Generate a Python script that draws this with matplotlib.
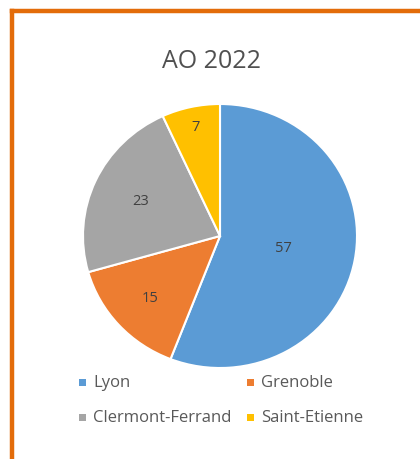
import numpy as np
import matplotlib.pyplot as plt
from matplotlib.patches import Rectangle
from matplotlib.lines import Line2D

plt.rcParams['font.family'] = ['Open Sans', 'DejaVu Sans']

cities = ['Lyon', 'Grenoble', 'Clermont-Ferrand', 'Saint-Etienne']
values = [57, 15, 23, 7]
colors = ['#5B9BD5', '#ED7D31', '#A5A5A5', '#FFC000']
label_r = [0.47, 0.69, 0.64, 0.85]

W, H = 420, 460
fig = plt.figure(figsize=(W / 100, H / 100), dpi=100)

# orange frame (top and left only visible)
fig.add_artist(Line2D([12 / W, 1], [1 - 12 / H, 1 - 12 / H], color='#E36C0A', lw=3.2,
                      transform=fig.transFigure))
fig.add_artist(Line2D([12 / W, 12 / W], [0, 1 - 12 / H], color='#E36C0A', lw=3.2,
                      transform=fig.transFigure))

# pie is slightly squashed in the reference
cx, cy, rx, ry = 220, 237, 137, 132
ax = fig.add_axes([(cx - rx) / W, (H - cy - ry) / H, 2 * rx / W, 2 * ry / H])
wedges, _ = ax.pie(values, colors=colors, startangle=90, counterclock=False,
                   radius=1, wedgeprops=dict(edgecolor='white', linewidth=1.5))
ax.set_xlim(-1, 1)
ax.set_ylim(-1, 1)
ax.set_aspect('auto')
ax.axis('off')

total = sum(values)
start = 90
for v, lr in zip(values, label_r):
    mid = np.deg2rad(start - v / total * 360 / 2)
    ax.text(lr * np.cos(mid), lr * np.sin(mid), str(v), ha='center', va='center',
            fontsize=10.5, color='#404040')
    start -= v / total * 360

fig.text(212 / W, 1 - 62 / H, 'AO 2022', ha='center', va='center', fontsize=18,
         color='#505050')

# legend laid out like Excel: 2 columns, 2 rows
leg_x = [82, 250]
leg_y = [383, 418]
sq = 7
for i, (name, c) in enumerate(zip(cities, colors)):
    x = leg_x[i % 2]
    y = leg_y[i // 2]
    fig.add_artist(Rectangle(((x - sq / 2) / W, 1 - (y + sq / 2) / H), sq / W, sq / H,
                             facecolor=c, edgecolor='none', transform=fig.transFigure))
    fig.text((x + 11) / W, 1 - y / H, name, ha='left', va='center', fontsize=12,
             color='#595959')

fig.savefig('out.png', dpi=100, facecolor='white')
